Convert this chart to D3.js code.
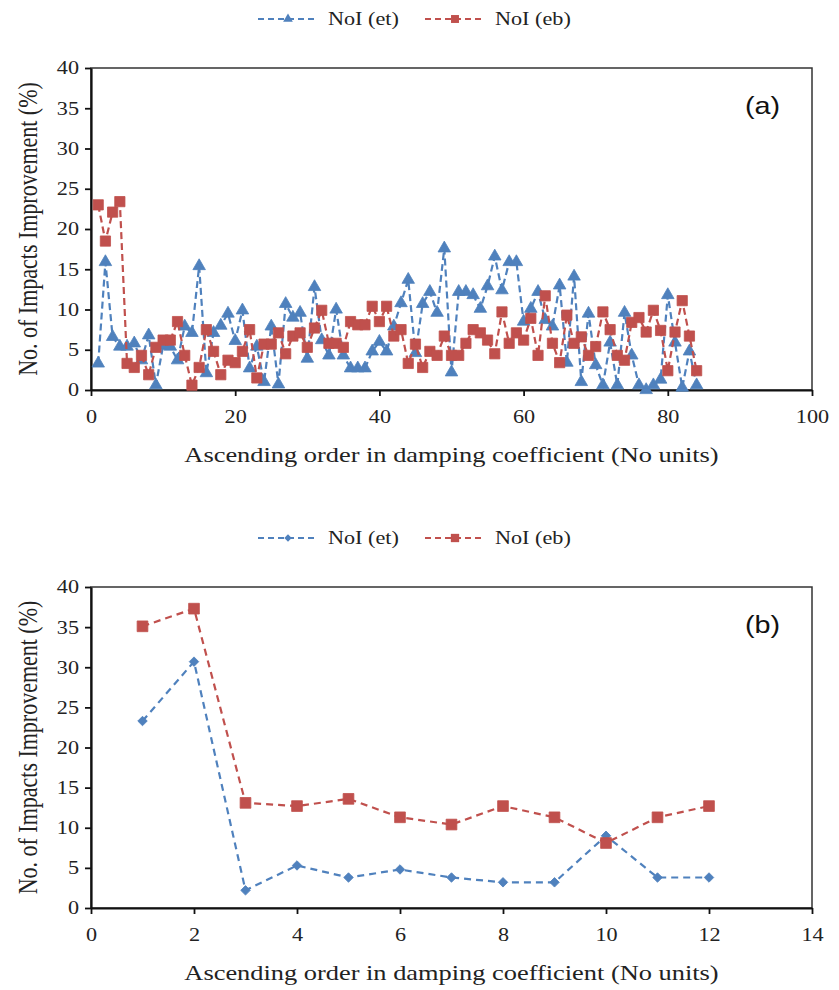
<!DOCTYPE html>
<html>
<head>
<meta charset="utf-8">
<script src="https://cdn.jsdelivr.net/npm/d3@7"></script>
<style>
  body { margin: 0; background: #fff; }
  .tick text { font-family: "Liberation Serif", "Times New Roman", serif; font-size: 18.5px; fill: #222; }
  .axisTitle { font-family: "Liberation Serif", "Times New Roman", serif; font-size: 22px; fill: #222; }
  .legendText { font-family: "Liberation Serif", "Times New Roman", serif; font-size: 18.5px; fill: #222; }
  .panelLabel { font-family: "Liberation Sans", Arial, sans-serif; font-size: 24px; fill: #111; }
</style>
</head>
<body>
<div id="chart"></div>
<script>
// panel (a) data: 84 cases in ascending damping order
var orderA = d3.range(1, 85);
var etA = [3.3, 15.9, 6.6, 5.4, 5.4, 5.8, 3.7, 6.8, 0.6, 5.5, 5.4, 3.7, 7.9, 7.1, 15.4, 2.1, 7.1, 8.0, 9.5, 6.1,
  9.9, 2.7, 5.4, 1.0, 7.9, 0.7, 10.7, 9.0, 9.6, 3.9, 12.8, 6.2, 4.3, 10.0, 4.3, 2.7, 2.7, 2.7, 4.8, 6.0,
  4.8, 7.9, 10.8, 13.7, 4.6, 10.7, 12.2, 9.6, 17.6, 2.2, 12.2, 12.2, 11.8, 10.1, 12.9, 16.6, 12.4, 15.9, 15.9, 8.5,
  10.1, 12.2, 8.7, 7.9, 13.0, 3.4, 14.1, 1.0, 9.5, 3.1, 0.6, 5.9, 0.6, 9.6, 4.3, 0.6, 0.0, 0.6, 1.3, 11.8,
  5.9, 0.3, 4.8, 0.6];
var ebA = [23.0, 18.5, 22.1, 23.4, 3.3, 2.8, 4.3, 1.9, 5.3, 6.2, 6.2, 8.5, 4.3, 0.6, 2.8, 7.5, 4.8, 1.9, 3.7, 3.4,
  4.8, 7.5, 1.5, 5.7, 5.7, 7.1, 4.5, 6.7, 7.1, 5.3, 7.7, 9.9, 5.8, 5.8, 5.3, 8.5, 8.1, 8.1, 10.4, 8.5,
  10.4, 6.7, 7.5, 3.3, 5.7, 2.8, 4.8, 4.3, 6.7, 4.3, 4.3, 5.8, 7.5, 7.1, 6.2, 4.5, 9.7, 5.8, 7.1, 6.2,
  8.9, 4.3, 11.7, 5.8, 3.4, 9.3, 5.8, 6.6, 4.3, 5.4, 9.7, 7.5, 4.3, 3.7, 8.4, 9.0, 7.2, 9.9, 7.4, 2.4,
  7.2, 11.1, 6.7, 2.4];

// panel (b) data
var orderB = [1, 2, 3, 4, 5, 6, 7, 8, 9, 10, 11, 12];
var etB = [23.3, 30.7, 2.2, 5.3, 3.8, 4.8, 3.8, 3.2, 3.2, 9.0, 3.8, 3.8];
var ebB = [35.1, 37.3, 13.1, 12.7, 13.6, 11.3, 10.4, 12.7, 11.3, 8.1, 11.3, 12.7];

var ticksY = [0, 5, 10, 15, 20, 25, 30, 35, 40];
var ticksXA = [0, 20, 40, 60, 80, 100];
var ticksXB = [0, 2, 4, 6, 8, 10, 12, 14];

var seriesNames = ["NoI (et)", "NoI (eb)"];
var blue = "#4F81BD", red = "#C0504D";
var xTitle = "Ascending order in damping coefficient (No units)";
var yTitle = "No. of Impacts Improvement (%)";

// the original figure is stretched sideways, so text is widened to match
var stretch = "scale(1.2,1)";

var svgWidth = 839, svgHeight = 990;
var svg = d3.select("#chart").append("svg")
  .attr("width", svgWidth)
  .attr("height", svgHeight);

var left = 91, right = 812;

function drawPanel(cfg) {
  var g = svg.append("g");
  var x = d3.scaleLinear().domain(cfg.xDomain).range([left, right]);
  var y = d3.scaleLinear().domain([0, 40]).range([cfg.bottom, cfg.top]);

  // frame
  g.append("rect")
    .attr("x", left).attr("y", cfg.top)
    .attr("width", right - left).attr("height", cfg.bottom - cfg.top)
    .attr("fill", "none").attr("stroke", "#333").attr("stroke-width", 1.5);

  var yAxis = g.append("g")
    .attr("transform", `translate(${left},0)`)
    .call(d3.axisLeft(y).tickValues(ticksY).tickSize(6).tickSizeOuter(0).tickPadding(4));
  var xAxis = g.append("g")
    .attr("transform", `translate(0,${cfg.bottom})`)
    .call(d3.axisBottom(x).tickValues(cfg.xTicks).tickSize(6).tickSizeOuter(0).tickPadding(14));
  [xAxis, yAxis].forEach(function(a) {
    a.select(".domain").attr("stroke", "#111").attr("stroke-width", 2.2);
    a.selectAll(".tick line").attr("stroke", "#111").attr("stroke-width", 1.8);
    a.selectAll(".tick text").attr("transform", stretch);
  });

  // series
  cfg.series.forEach(function(s) {
    var pts = cfg.order.map(function(d, i) { return [d, s.values[i]]; });
    g.append("path")
      .datum(pts)
      .attr("fill", "none")
      .attr("stroke", s.color)
      .attr("stroke-width", cfg.lineWidth)
      .attr("stroke-dasharray", cfg.dash)
      .attr("d", d3.line().x(d => x(d[0])).y(d => y(d[1])));
    g.selectAll(null).data(pts).enter().append("path")
      .attr("transform", d => `translate(${x(d[0])},${y(d[1])})${s.rotate ? " rotate(45)" : ""}`)
      .attr("d", d3.symbol().type(s.symbol).size(s.size))
      .attr("fill", s.color)
      .attr("stroke", s.color)
      .attr("stroke-width", 0.8);
  });

  // legend
  var lg = g.append("g").attr("transform", `translate(0,${cfg.legendY})`);
  cfg.series.forEach(function(s, i) {
    var x0 = [258, 425][i];
    lg.append("line")
      .attr("x1", x0).attr("x2", x0 + 60).attr("y1", 0).attr("y2", 0)
      .attr("stroke", s.color).attr("stroke-width", 2.2).attr("stroke-dasharray", "6,4");
    lg.append("path")
      .attr("transform", `translate(${x0 + 30},0)${s.rotate ? " rotate(45)" : ""}`)
      .attr("d", d3.symbol().type(s.symbol).size(s.size * 0.6))
      .attr("fill", s.color);
    lg.append("text")
      .attr("class", "legendText")
      .attr("transform", `translate(${x0 + 70},0) ${stretch}`)
      .attr("dy", "0.35em")
      .text(seriesNames[i]);
  });

  // titles
  g.append("text")
    .attr("class", "axisTitle")
    .attr("text-anchor", "middle")
    .attr("transform", `translate(${(left + right) / 2},${cfg.bottom + 72}) ${stretch}`)
    .text(xTitle);
  g.append("text")
    .attr("class", "axisTitle")
    .attr("text-anchor", "middle")
    .attr("transform", `translate(37,${(cfg.top + cfg.bottom) / 2}) ${stretch} rotate(-90)`)
    .text(yTitle);
  g.append("text")
    .attr("class", "panelLabel")
    .attr("transform", `translate(745,${cfg.top + 46}) ${stretch}`)
    .text(cfg.label);
}

drawPanel({
  top: 68, bottom: 390, xDomain: [0, 100], xTicks: ticksXA,
  order: orderA, legendY: 19, label: "(a)", lineWidth: 2.2, dash: "7,4",
  series: [
    { values: etA, color: blue, symbol: d3.symbolTriangle, size: 68 },
    { values: ebA, color: red, symbol: d3.symbolSquare, size: 105 }
  ]
});

drawPanel({
  top: 587, bottom: 908, xDomain: [0, 14], xTicks: ticksXB,
  order: orderB, legendY: 538, label: "(b)", lineWidth: 2.2, dash: "7,5",
  series: [
    { values: etB, color: blue, symbol: d3.symbolSquare, size: 45, rotate: true },
    { values: ebB, color: red, symbol: d3.symbolSquare, size: 115 }
  ]
});
</script>
</body>
</html>
